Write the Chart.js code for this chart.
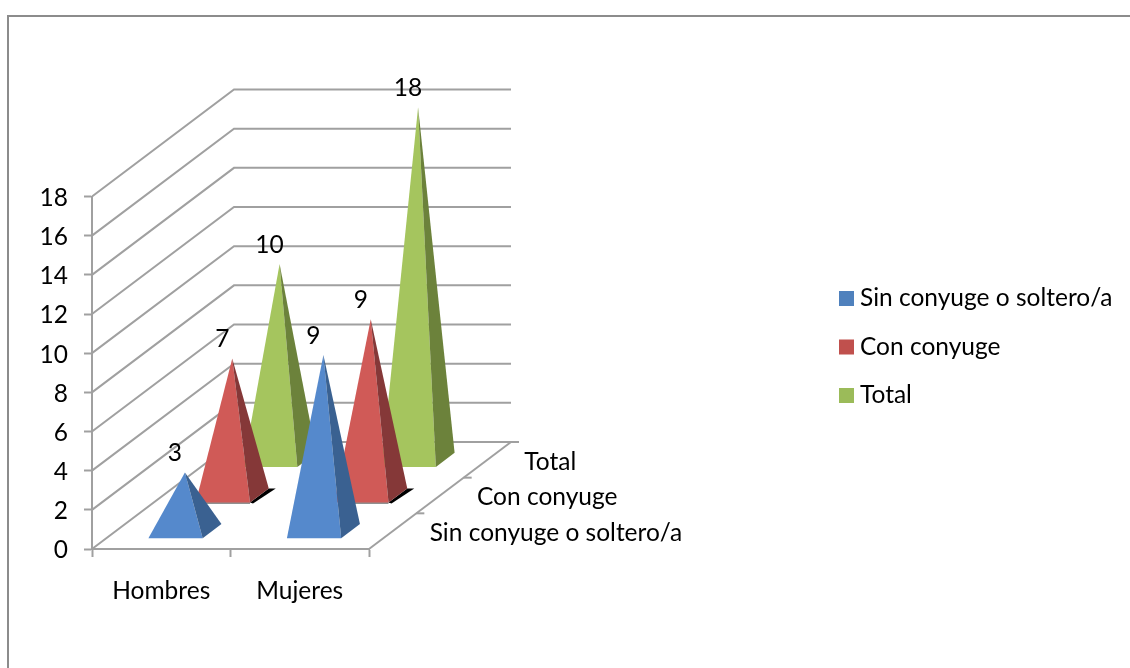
<!DOCTYPE html>
<html lang="es">
<head>
<meta charset="utf-8">
<title>Grafico piramides</title>
<script src="https://cdn.jsdelivr.net/npm/chart.js@4"></script>
<style>
  html, body { margin: 0; background: #fff; overflow: hidden; }
  #frame { position: absolute; left: 7px; top: 15px; right: 0; bottom: 0; border-left: 2px solid #8c8c8c; border-top: 2px solid #8c8c8c; }
  #grafico { position: absolute; left: 0; top: 0; }
</style>
</head>
<body>
<div id="frame"></div>
<canvas id="grafico" width="1130" height="668"></canvas>
<script>
const categorias = ["Hombres", "Mujeres"];
const nombresSeries = ["Sin conyuge o soltero/a", "Con conyuge", "Total"];
const sinConyuge = [3, 9];
const conConyuge = [7, 9];
const total = [10, 18];

const FUENTE = "Lato";
const TAM = 24.5;
const GRIS = "#a0a0a0";

// oblique depth of the 3D box
const PROF_X = 142;
const PROF_Y = 107;

// x, y on the floor/wall for a category position and a depth (0 front, 1 back)
function proyectar(chart, px, depth, valor) {
    const y = chart.scales.y.getPixelForValue(valor);
    return [px + depth * PROF_X, y - depth * PROF_Y];
}

function poligono(ctx, puntos, color) {
    ctx.beginPath();
    puntos.forEach((p, i) => i ? ctx.lineTo(p[0], p[1]) : ctx.moveTo(p[0], p[1]));
    ctx.closePath();
    ctx.fillStyle = color;
    ctx.fill();
}

function linea(ctx, puntos) {
    ctx.beginPath();
    puntos.forEach((p, i) => i ? ctx.lineTo(p[0], p[1]) : ctx.moveTo(p[0], p[1]));
    ctx.stroke();
}

const piramides = {
    id: "piramides",
    beforeDatasetDraw() {
        return false; // the bars are replaced by the pyramids
    },
    beforeDatasetsDraw(chart) {
        const ctx = chart.ctx;
        const area = chart.chartArea;
        const esc = chart.scales.x;
        const n = chart.data.datasets.length;

        // walls and floor
        ctx.save();
        ctx.strokeStyle = GRIS;
        ctx.lineWidth = 2;
        chart.scales.y.ticks.forEach(t => {
            const a = proyectar(chart, area.left, 0, t.value);
            const b = proyectar(chart, area.left, 1, t.value);
            const c = proyectar(chart, area.right, 1, t.value);
            linea(ctx, [a, b, c]);
        });
        linea(ctx, [proyectar(chart, area.right, 0, 0), proyectar(chart, area.right, 1, 0)]);
        for (let s = 1; s <= n; s++) {
            const p = proyectar(chart, area.right, s / n, 0);
            linea(ctx, [p, [p[0] + 8, p[1]]]);
        }
        ctx.restore();

        // back series first so the front ones cover them
        const anchoBanda = esc.getPixelForValue(1) - esc.getPixelForValue(0);
        const medioAncho = anchoBanda * 0.196;
        const medioFondo = 0.066;
        for (let s = n - 1; s >= 0; s--) {
            const ds = chart.data.datasets[s];
            const depth = (s + 0.5) / n;
            ds.data.forEach((v, i) => {
                const cx = esc.getPixelForValue(i);
                const fi = proyectar(chart, cx - medioAncho, depth - medioFondo, 0);
                const fd = proyectar(chart, cx + medioAncho, depth - medioFondo, 0);
                const td = proyectar(chart, cx + medioAncho, depth + medioFondo, 0);
                const apice = proyectar(chart, cx, depth, v);
                if (ds.sombra) {
                    ctx.save();
                    ctx.filter = "blur(0.6px)";
                    poligono(ctx, [fd, td, [td[0] + 7, td[1]], [fd[0] + 3, fd[1] + 1]], "#000");
                    ctx.restore();
                    poligono(ctx, [[fi[0] + 8, fi[1]], fd, [fd[0], fd[1] + 1], [fi[0] + 8, fi[1] + 1]], "#222");
                }
                poligono(ctx, [fi, fd, apice], ds.caraFrente);
                poligono(ctx, [fd, td, apice], ds.caraLado);
            });
        }
    },
    afterDatasetsDraw(chart) {
        const ctx = chart.ctx;
        const esc = chart.scales.x;
        const area = chart.chartArea;
        const n = chart.data.datasets.length;
        ctx.save();
        ctx.font = TAM + "px " + FUENTE;
        ctx.fillStyle = "#000";
        ctx.textBaseline = "middle";

        // value labels above each apex
        ctx.textAlign = "center";
        chart.data.datasets.forEach((ds, s) => {
            ds.data.forEach((v, i) => {
                const apice = proyectar(chart, esc.getPixelForValue(i), (s + 0.5) / n, v);
                ctx.fillText(String(v), apice[0] - 10, apice[1] - 19);
            });
        });

        // series names along the depth axis
        ctx.textAlign = "left";
        nombresSeries.forEach((nombre, s) => {
            const p = proyectar(chart, area.right, (s + 0.5) / n, 0);
            ctx.fillText(nombre, p[0] + 37, p[1] + 2);
        });

        // legend
        chart.data.datasets.forEach((ds, s) => {
            const y = 298.5 + s * 48.5;
            ctx.fillStyle = ds.backgroundColor;
            ctx.fillRect(839, y - 7.5, 15, 15);
            ctx.fillStyle = "#000";
            ctx.fillText(ds.label, 860, y);
        });
        ctx.restore();
    }
};

new Chart(document.getElementById("grafico"), {
    type: "bar",
    data: {
        labels: categorias,
        datasets: [
            { label: nombresSeries[0], data: sinConyuge, backgroundColor: "#4f81bd", caraFrente: "#5589CC", caraLado: "#3A6191" },
            { label: nombresSeries[1], data: conConyuge, backgroundColor: "#c0504d", caraFrente: "#D05A57", caraLado: "#853838", sombra: true },
            { label: nombresSeries[2], data: total, backgroundColor: "#9bbb59", caraFrente: "#A5C55E", caraLado: "#6C823B" }
        ]
    },
    options: {
        responsive: false,
        animation: false,
        devicePixelRatio: 1,
        layout: { padding: { top: 196.5, right: 761, bottom: 0, left: 0 } },
        plugins: { legend: { display: false }, tooltip: { enabled: false } },
        scales: {
            x: {
                offset: true,
                afterFit(s) { s.height = 119; },
                grid: { offset: true, drawOnChartArea: false, tickLength: 8, tickColor: GRIS, tickWidth: 2 },
                border: { color: GRIS, width: 2 },
                ticks: { color: "#000", padding: 19, maxRotation: 0, font: { family: FUENTE, size: TAM } }
            },
            y: {
                min: 0,
                max: 18,
                afterFit(s) { s.width = 92; },
                grid: { drawOnChartArea: false, tickLength: 8, tickColor: GRIS, tickWidth: 2 },
                border: { color: GRIS, width: 2 },
                ticks: { stepSize: 2, color: "#000", padding: 16, labelOffset: 1.5, font: { family: FUENTE, size: TAM } }
            }
        }
    },
    plugins: [piramides]
});
</script>
</body>
</html>
